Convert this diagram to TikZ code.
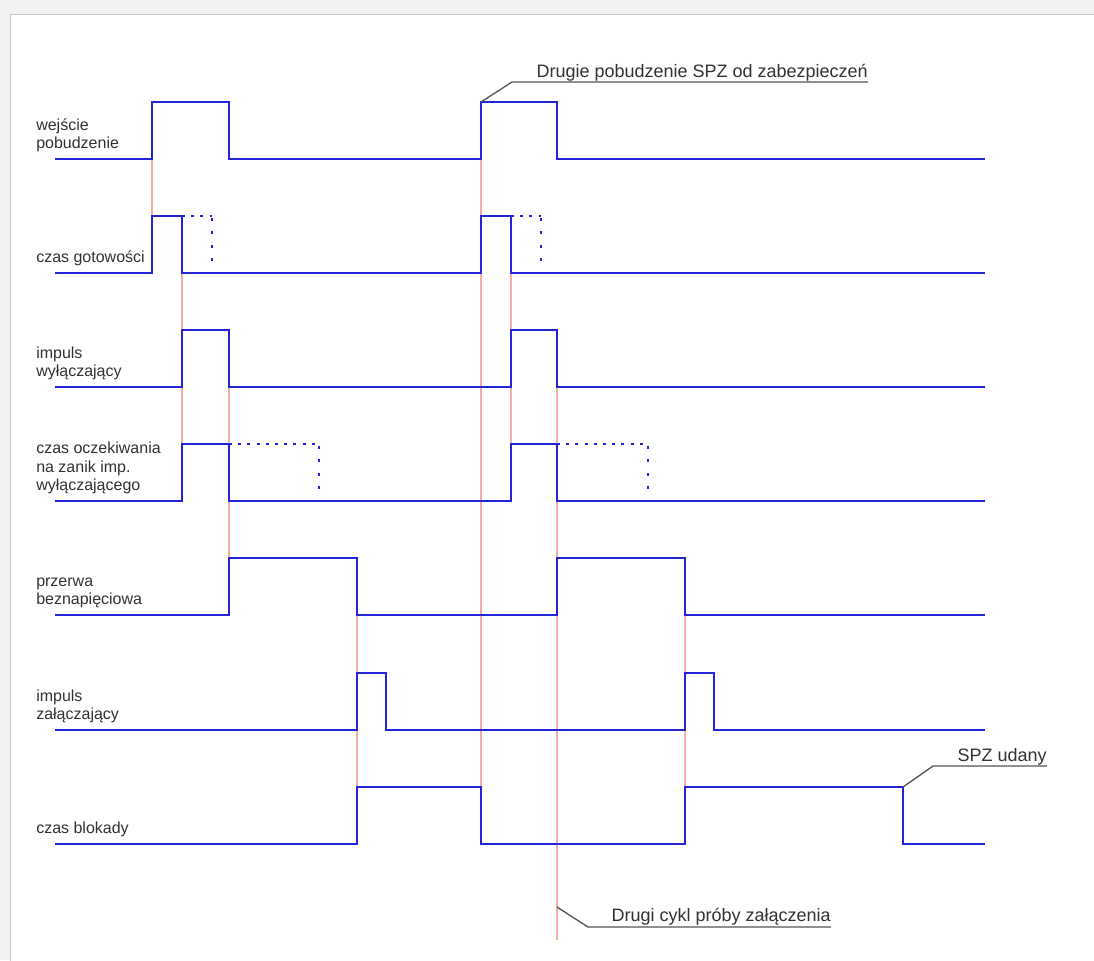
\documentclass[tikz,border=0pt]{standalone}
\usepackage{fontspec}
\setmainfont{Liberation Sans}
\definecolor{sig}{RGB}{36,36,215}
\definecolor{guide}{RGB}{246,172,162}
\definecolor{txt}{RGB}{50,50,50}
\definecolor{lead}{RGB}{85,85,85}
\begin{document}
\begin{tikzpicture}[x=0.75pt,y=-0.75pt,
  sigline/.style={draw=sig,line width=2pt,line join=miter},
  dothor/.style={draw=sig,line width=2pt,dash pattern=on 2.2pt off 4.7pt},
  dotver/.style={draw=sig,line width=2pt,dash pattern=on 2.2pt off 7.8pt,dash phase=8.4pt},
  guideline/.style={draw=guide,line width=1pt},
  lbl/.style={text=txt,font=\fontsize{12}{13.9}\selectfont,align=left,inner sep=0pt,anchor=south west},
  note/.style={text=txt,font=\fontsize{13.5}{16}\selectfont,inner sep=0pt,anchor=base east},
  leader/.style={draw=lead,line width=1pt}]

\useasboundingbox (0,0) rectangle (1094,960);
\fill[black!5] (0,0) rectangle (1094,960);
\filldraw[fill=white,draw=black!22,line width=0.75pt] (10,14) rectangle (1100,970);

% guide lines
\draw[guideline] (152,159) -- (152,216);
\draw[guideline] (182,273) -- (182,501);
\draw[guideline] (229,387) -- (229,615);
\draw[guideline] (357,615) -- (357,787);
\draw[guideline] (481,159) -- (481,844);
\draw[guideline] (511,273) -- (511,501);
\draw[guideline] (557,387) -- (557,940);
\draw[guideline] (685,615) -- (685,787);

% signals
\draw[sigline] (55,159) -- (152,159) -- (152,102) -- (229,102) -- (229,159) -- (481,159) -- (481,102) -- (557,102) -- (557,159) -- (985,159);
\draw[sigline] (55,273) -- (152,273) -- (152,216) -- (182,216) -- (182,273) -- (481,273) -- (481,216) -- (511,216) -- (511,273) -- (985,273);
\draw[dothor] (182,216) -- (212,216);
\draw[dotver] (212,216) -- (212,262);
\draw[dothor] (511,216) -- (541,216);
\draw[dotver] (541,216) -- (541,262);
\draw[sigline] (55,387) -- (182,387) -- (182,330) -- (229,330) -- (229,387) -- (511,387) -- (511,330) -- (557,330) -- (557,387) -- (985,387);
\draw[sigline] (55,501) -- (182,501) -- (182,444) -- (229,444) -- (229,501) -- (511,501) -- (511,444) -- (557,444) -- (557,501) -- (985,501);
\draw[dothor] (229,444) -- (319,444);
\draw[dotver] (319,444) -- (319,491);
\draw[dothor] (557,444) -- (648,444);
\draw[dotver] (648,444) -- (648,491);
\draw[sigline] (55,615) -- (229,615) -- (229,558) -- (357,558) -- (357,615) -- (557,615) -- (557,558) -- (685,558) -- (685,615) -- (985,615);
\draw[sigline] (55,730) -- (357,730) -- (357,673) -- (386,673) -- (386,730) -- (685,730) -- (685,673) -- (714,673) -- (714,730) -- (985,730);
\draw[sigline] (55,844) -- (357,844) -- (357,787) -- (481,787) -- (481,844) -- (685,844) -- (685,787) -- (903,787) -- (903,844) -- (985,844);

% labels
\node[lbl] (l1) at (36,152.5) {wejście\\pobudzenie};
\node[lbl] (l2) at (36,266.5) {czas gotowości};
\node[lbl] (l3) at (36,380.5) {impuls\\wyłączający};
\node[lbl] (l4) at (36,494.5) {czas oczekiwania\\na zanik imp.\\wyłączającego};
\node[lbl] (l5) at (36,608.5) {przerwa\\beznapięciowa};
\node[lbl] (l6) at (36,723.5) {impuls\\załączający};
\node[lbl] (l7) at (36,837.5) {czas blokady};

% annotations
\node[note] (a1) at (868,77) {Drugie pobudzenie SPZ od zabezpieczeń};
\coordinate (p1) at (481,102);
\coordinate (k1) at (512,82);
\draw[leader] (p1) -- (k1) -- (k1 -| a1.east);

\node[note] (a2) at (1047,761) {SPZ udany};
\coordinate (p2) at (903,787);
\coordinate (k2) at (933,766);
\draw[leader] (p2) -- (k2) -- (k2 -| a2.east);

\node[note] (a3) at (831,921) {Drugi cykl próby załączenia};
\coordinate (p3) at (557,907);
\coordinate (k3) at (588,927);
\draw[leader] (p3) -- (k3) -- (k3 -| a3.east);
\end{tikzpicture}
\end{document}
